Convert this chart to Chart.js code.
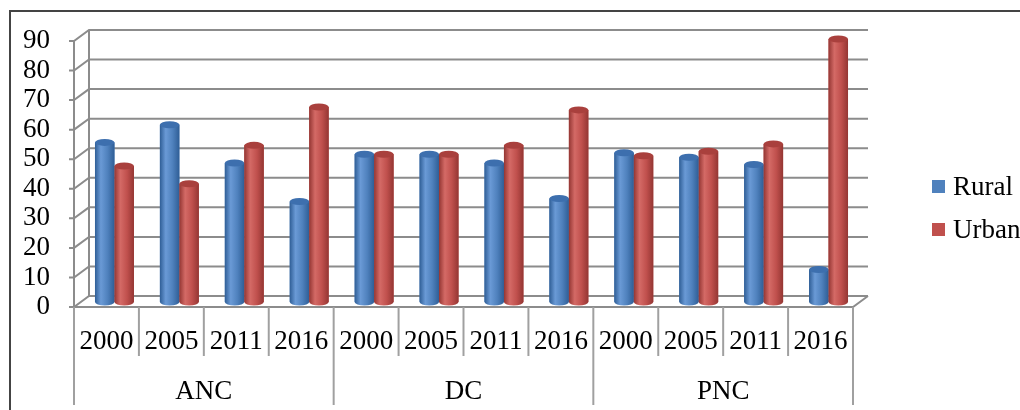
<!DOCTYPE html>
<html>
<head>
<meta charset="utf-8">
<script src="https://cdn.jsdelivr.net/npm/chart.js@4/dist/chart.umd.min.js"></script>
<style>
    body { margin: 0; background: #fff; }
    #wrap { position: relative; width: 1020px; height: 410px; }
    #frame { position: absolute; left: 9px; top: 10px; width: 1020px; height: 410px;
             border-top: 2px solid #444; border-left: 2px solid #444; box-sizing: border-box; }
    #legend { position: absolute; left: 932px; top: 165px; font-family: "Liberation Serif", serif;
              font-size: 27px; color: #000; }
    #legend div { display: flex; align-items: center; height: 43px; }
    #legend span.box { display: inline-block; width: 13px; height: 13px; margin-right: 8px; }
</style>
</head>
<body>
<div id="wrap">
    <div id="frame"></div>
    <canvas id="chart" width="1020" height="410" style="position:absolute;left:0;top:0"></canvas>
    <div id="legend"></div>
</div>
<script>
const years = ['2000', '2005', '2011', '2016'];
const groups = ['ANC', 'DC', 'PNC'];
const seriesNames = ['Rural', 'Urban'];
const rural = [54, 60, 47, 34, 50, 50, 47, 35, 50.5, 49, 46.5, 11];
const urban = [46, 40, 53, 66, 50, 50, 53, 65, 49.5, 51, 53.5, 89];
const yTicks = [0, 10, 20, 30, 40, 50, 60, 70, 80, 90];

const colors = {
    Rural: { base: '#4F81BD', dark: '#2f5e96', light: '#6a9ad6', cap: '#3d6fae' },
    Urban: { base: '#C0504D', dark: '#943633', light: '#d46a66', cap: '#a9403d' }
};

const labels = [];
groups.forEach(g => years.forEach(y => labels.push(y)));

const DX = 15, DY = -11;      // back wall offset
const BX = 8, BY = -5;        // bar depth offset

// back wall, floor and dividers
const wallPlugin = {
    id: 'wall',
    beforeDatasetsDraw(chart) {
        const ctx = chart.ctx;
        const ys = chart.scales.y;
        const xs = chart.scales.x;
        const left = xs.left, right = xs.right;
        ctx.save();
        ctx.strokeStyle = '#8c8c8c';
        ctx.lineWidth = 2;
        yTicks.forEach(v => {
            const py = ys.getPixelForValue(v);
            ctx.beginPath();
            ctx.moveTo(left - 5, py);
            ctx.lineTo(left, py);
            ctx.lineTo(left + DX, py + DY);
            ctx.lineTo(right + DX, py + DY);
            ctx.stroke();
        });
        // left wall edges
        ctx.beginPath();
        ctx.moveTo(left, ys.getPixelForValue(0));
        ctx.lineTo(left, ys.getPixelForValue(90));
        ctx.moveTo(left + DX, ys.getPixelForValue(0) + DY);
        ctx.lineTo(left + DX, ys.getPixelForValue(90) + DY);
        ctx.stroke();
        // floor front edge + right side
        const y0 = ys.getPixelForValue(0);
        ctx.beginPath();
        ctx.moveTo(left, y0);
        ctx.lineTo(right, y0);
        ctx.lineTo(right + DX, y0 + DY);
        ctx.stroke();
        // category dividers
        const step = (right - left) / labels.length;
        ctx.strokeStyle = '#a0a0a0';
        for (let i = 0; i <= labels.length; i++) {
            const px = left + i * step;
            const isGroup = i % years.length === 0;
            ctx.beginPath();
            ctx.moveTo(px, y0);
            ctx.lineTo(px, isGroup ? 405 : 356);
            ctx.stroke();
        }
        ctx.restore();
        ctx.save();
        ctx.translate(BX, BY);
    },
    afterDatasetsDraw(chart) {
        const ctx = chart.ctx;
        chart.data.datasets.forEach((ds, di) => {
            const c = colors[ds.label];
            chart.getDatasetMeta(di).data.forEach(el => {
                const r = el.width / 2;
                const x0 = el.x - r;
                // cylinder shading
                const g = ctx.createLinearGradient(x0, 0, x0 + el.width, 0);
                g.addColorStop(0, c.dark);
                g.addColorStop(0.3, c.light);
                g.addColorStop(0.65, c.base);
                g.addColorStop(1, c.dark);
                ctx.fillStyle = g;
                ctx.fillRect(x0, el.y, el.width, el.base - el.y);
                ctx.beginPath();
                ctx.ellipse(el.x, el.base, r, 3.5, 0, 0, Math.PI);
                ctx.fill();
                // cap
                ctx.beginPath();
                ctx.ellipse(el.x, el.y, r, 3.5, 0, 0, Math.PI * 2);
                ctx.fillStyle = c.cap;
                ctx.fill();
            });
        });
        ctx.restore();
    }
};

const serif = '"Liberation Serif", "Times New Roman", serif';

new Chart(document.getElementById('chart'), {
    type: 'bar',
    data: {
        labels: labels,
        datasets: [
            { label: seriesNames[0], data: rural, backgroundColor: colors.Rural.base, borderWidth: 0 },
            { label: seriesNames[1], data: urban, backgroundColor: colors.Urban.base, borderWidth: 0 }
        ]
    },
    options: {
        responsive: false,
        animation: false,
        layout: { padding: { left: 14, right: 167, top: 41, bottom: 5 } },
        datasets: { bar: { categoryPercentage: 0.6, barPercentage: 1.0 } },
        plugins: { legend: { display: false }, tooltip: { enabled: false } },
        scales: {
            x: {
                type: 'category',
                grid: { display: false },
                border: { display: false },
                afterFit(scale) { scale.height = 49; },
                ticks: { color: '#000', font: { family: serif, size: 27 }, padding: 11, maxRotation: 0, autoSkip: false }
            },
            x2: {
                type: 'category',
                position: 'bottom',
                labels: groups,
                offset: true,
                grid: { display: false },
                border: { display: false },
                afterFit(scale) { scale.height = 49; },
                ticks: { color: '#000', font: { family: serif, size: 27 }, padding: 12 }
            },
            y: {
                min: 0, max: 90,
                grid: { display: false },
                border: { display: false },
                afterFit(scale) { scale.width = 60; },
                afterBuildTicks(scale) { scale.ticks = yTicks.map(v => ({ value: v })); },
                ticks: { color: '#000', font: { family: serif, size: 27 }, padding: 16, autoSkip: false }
            }
        }
    },
    plugins: [wallPlugin]
});

const legend = document.getElementById('legend');
seriesNames.forEach(n => {
    const row = document.createElement('div');
    row.innerHTML = '<span class="box" style="background:' + colors[n].base + '"></span>' + n;
    legend.appendChild(row);
});
</script>
</body>
</html>
